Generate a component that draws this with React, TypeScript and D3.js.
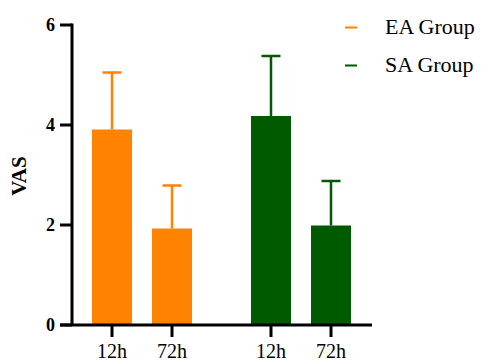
import React from 'react';
import * as d3 from 'd3';

const groups = ['EA Group', 'SA Group'];
const times = ['12h', '72h'];
const means = [[3.91, 1.93], [4.18, 1.99]];
const upper = [[5.05, 2.79], [5.38, 2.88]];
const colors = ['#FF8200', '#005A00'];
const yTicks = [0, 2, 4, 6];

const App = () => {
  const W = 487;
  const H = 363;
  const serif = { fontFamily: "'Liberation Serif', 'Times New Roman', Times, serif" };
  const bold = { ...serif, fontWeight: 700 };

  const y = d3.scaleLinear().domain([0, 6]).range([325, 25]);
  const xGroup = d3.scalePoint().domain(groups).range([142, 301]);
  const xTime = d3.scaleBand().domain(times).range([-60, 60]).paddingInner(1 / 3).paddingOuter(1 / 6);
  const bw = xTime.bandwidth();
  const x0 = 72;
  const x1 = 372;

  return (
    <svg width={W} height={H} style={{ position: 'absolute', left: 0, top: 0 }}>
      <rect width={W} height={H} fill="#fff" />
      {groups.map((g, gi) =>
        times.map((t, ti) => {
          const cx = (xGroup(g) as number) + (xTime(t) as number) + bw / 2;
          return (
            <g key={g + t}>
              <rect x={cx - bw / 2} y={y(means[gi][ti])} width={bw} height={y(0) - y(means[gi][ti])} fill={colors[gi]} />
              <line x1={cx} x2={cx} y1={y(means[gi][ti])} y2={y(upper[gi][ti])} stroke={colors[gi]} strokeWidth={2.5} />
              <line x1={cx - 9.5} x2={cx + 9.5} y1={y(upper[gi][ti])} y2={y(upper[gi][ti])} stroke={colors[gi]} strokeWidth={2.5} />
              <line x1={cx} x2={cx} y1={325} y2={337} stroke="#000" strokeWidth={3} />
              <text x={cx} y={358} textAnchor="middle" style={serif} fontSize={20}>{t}</text>
            </g>
          );
        })
      )}
      {/* y axis */}
      <line x1={x0} x2={x0} y1={y(6) - 1.5} y2={y(0)} stroke="#000" strokeWidth={3} />
      {yTicks.map(v => (
        <g key={v}>
          <line x1={60} x2={x0} y1={y(v)} y2={y(v)} stroke="#000" strokeWidth={3} />
          <text x={55} y={y(v) + 6} textAnchor="end" style={bold} fontSize={18}>{v}</text>
        </g>
      ))}
      {/* x axis */}
      <line x1={60} x2={x1} y1={y(0)} y2={y(0)} stroke="#000" strokeWidth={3} />
      <text transform={`translate(26,176) rotate(-90)`} textAnchor="middle" style={bold} fontSize={21}>VAS</text>
      {/* legend */}
      {groups.map((g, i) => (
        <g key={g} transform={`translate(0,${i * 38})`}>
          <line x1={345} x2={357} y1={27.5} y2={27.5} stroke={colors[i]} strokeWidth={2} />
          <text x={385} y={33.5} style={serif} fontSize={22}>{g}</text>
        </g>
      ))}
    </svg>
  );
};

export default App;
